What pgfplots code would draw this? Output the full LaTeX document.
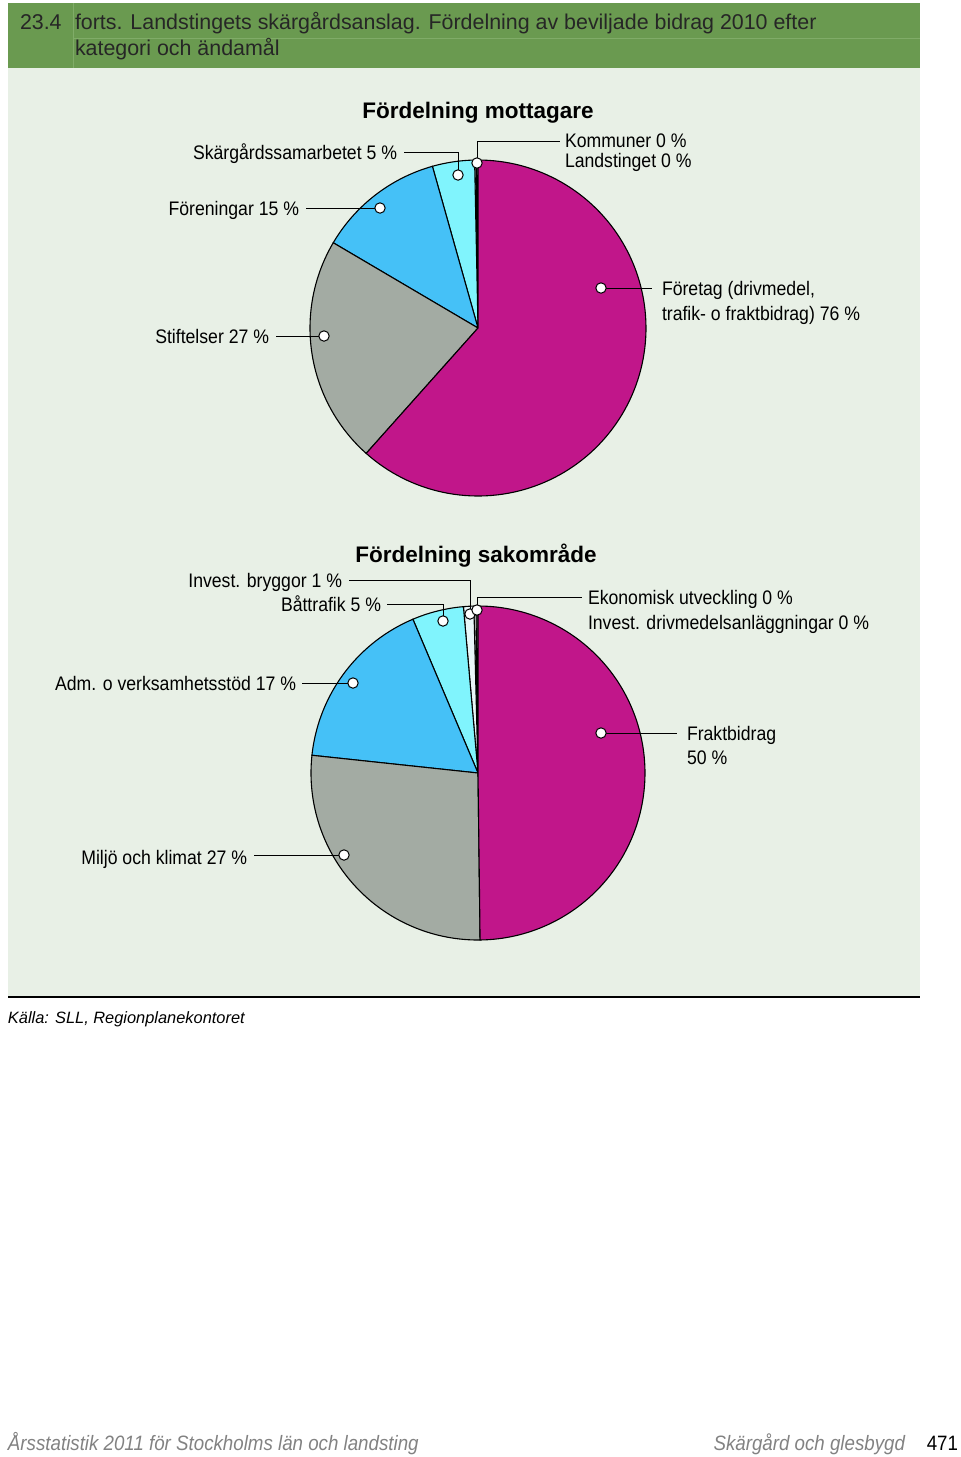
\documentclass[border=0pt]{standalone}
\usepackage{fontspec}
\setmainfont{Liberation Sans}
\newfontfamily\cond[FakeStretch=0.9]{Liberation Sans}
\usepackage{pgfplots}
\pgfplotsset{compat=1.18}

\definecolor{barG}{RGB}{106,154,80}
\definecolor{barL}{RGB}{128,172,104}
\definecolor{bgG}{RGB}{232,240,230}
\definecolor{pMag}{RGB}{193,22,138}
\definecolor{pGray}{RGB}{163,171,163}
\definecolor{pBlue}{RGB}{69,193,247}
\definecolor{pCyan}{RGB}{128,244,253}
\definecolor{pWhite}{RGB}{232,246,248}
\definecolor{footG}{RGB}{130,130,130}

% ---- data: Fördelning mottagare (share of total) ----
\def\mKom{0.2}   % Kommuner 0 %
\def\mLan{0.2}   % Landstinget 0 %
\def\mSka{5}     % Skärgårdssamarbetet
\def\mFor{15}    % Föreningar
\def\mSti{27}    % Stiftelser
\def\mFtg{76}    % Företag
% ---- data: Fördelning sakområde ----
\def\sEko{0.2}   % Ekonomisk utveckling 0 %
\def\sDri{0.2}   % Invest. drivmedelsanläggningar 0 %
\def\sBry{1}     % Invest. bryggor
\def\sBat{5}     % Båttrafik
\def\sAdm{17}    % Adm. o verksamhetsstöd
\def\sMil{27}    % Miljö och klimat
\def\sFra{50}    % Fraktbidrag

\pgfmathsetmacro\mT{\mKom+\mLan+\mSka+\mFor+\mSti+\mFtg}
\pgfmathsetmacro\ma{90}
\pgfmathsetmacro\mb{\ma+360*(\mKom/\mT)}
\pgfmathsetmacro\mc{\mb+360*(\mLan/\mT)}
\pgfmathsetmacro\md{\mc+360*(\mSka/\mT)}
\pgfmathsetmacro\me{\md+360*(\mFor/\mT)}
\pgfmathsetmacro\mf{\me+360*(\mSti/\mT)}
\pgfmathsetmacro\mg{\mf+360*(\mFtg/\mT)}

\pgfmathsetmacro\sT{\sEko+\sDri+\sBry+\sBat+\sAdm+\sMil+\sFra}
\pgfmathsetmacro\sa{90}
\pgfmathsetmacro\sb{\sa+360*(\sEko/\sT)}
\pgfmathsetmacro\sc{\sb+360*(\sDri/\sT)}
\pgfmathsetmacro\sd{\sc+360*(\sBry/\sT)}
\pgfmathsetmacro\se{\sd+360*(\sBat/\sT)}
\pgfmathsetmacro\sf{\se+360*(\sAdm/\sT)}
\pgfmathsetmacro\sg{\sf+360*(\sMil/\sT)}
\pgfmathsetmacro\sh{\sg+360*(\sFra/\sT)}

\newcommand{\slice}[6]{%
  \addplot[draw=black, line width=0.55pt, fill=#6, domain=#4:#5, samples=120, variable=\t]
    ({#1+#3*cos(\t)},{#2-#3*sin(\t)}) -- (axis cs:#1,#2) -- cycle;}

\newcommand{\lab}{\fontsize{9.8}{12}\selectfont\cond}
\newcommand{\ttl}{\fontsize{11.25}{13}\selectfont\bfseries}
\newcommand{\hdr}{\fontsize{10.7}{13}\selectfont}
\newcommand{\ftr}{\fontsize{10.4}{13}\selectfont\cond}

\begin{document}
\begin{tikzpicture}[every node/.style={inner sep=0pt, outer sep=0pt}]
\begin{axis}[
  scale only axis, width=480pt, height=728.5pt,
  xmin=0, xmax=960, ymin=0, ymax=1457, y dir=reverse,
  hide axis, clip=false,
]
% bounding frame
\path (axis cs:0,0) rectangle (axis cs:960,1457);
% title bar
\fill[barG] (axis cs:8,3) rectangle (axis cs:920,68);
\draw[barL, line width=0.5pt] (axis cs:73,3) -- (axis cs:73,68);
\draw[barL, line width=0.5pt] (axis cs:73,38) -- (axis cs:920,38);
\node[anchor=base west, font=\hdr, text=black!85] at (axis cs:20,29) {23.4};
\node[anchor=base west, font=\hdr, text=black!85] at (axis cs:75,29) {forts. Landstingets skärgårdsanslag. Fördelning av beviljade bidrag 2010 efter};
\node[anchor=base west, font=\hdr, text=black!85] at (axis cs:75,55) {kategori och ändamål};
% background
\fill[bgG] (axis cs:8,68) rectangle (axis cs:920,997);
\draw[black, line width=1pt] (axis cs:8,997) -- (axis cs:920,997);

% ---- top pie ----
\slice{478}{328}{168}{\ma}{\mb}{white}
\slice{478}{328}{168}{\mb}{\mc}{white}
\slice{478}{328}{168}{\mc}{\md}{pCyan}
\slice{478}{328}{168}{\md}{\me}{pBlue}
\slice{478}{328}{168}{\me}{\mf}{pGray}
\slice{478}{328}{168}{\mf}{\mg}{pMag}

% ---- bottom pie ----
\slice{478}{773}{167}{\sa}{\sb}{white}
\slice{478}{773}{167}{\sb}{\sc}{white}
\slice{478}{773}{167}{\sc}{\sd}{pWhite}
\slice{478}{773}{167}{\sd}{\se}{pCyan}
\slice{478}{773}{167}{\se}{\sf}{pBlue}
\slice{478}{773}{167}{\sf}{\sg}{pGray}
\slice{478}{773}{167}{\sg}{\sh}{pMag}

% titles
\node[anchor=base, font=\ttl] at (axis cs:478,118) {Fördelning mottagare};
\node[anchor=base, font=\ttl] at (axis cs:476,562) {Fördelning sakområde};

% leader lines top
\draw[line width=0.5pt] (axis cs:404,152) -- (axis cs:458,152) -- (axis cs:458,175);
\draw[line width=0.5pt] (axis cs:477,163) -- (axis cs:477,141) -- (axis cs:560,141);
\draw[line width=0.5pt] (axis cs:306,208) -- (axis cs:380,208);
\draw[line width=0.5pt] (axis cs:276,336) -- (axis cs:324,336);
\draw[line width=0.5pt] (axis cs:601,288) -- (axis cs:652,288);
% leader lines bottom
\draw[line width=0.5pt] (axis cs:349,580) -- (axis cs:470,580) -- (axis cs:470,614);
\draw[line width=0.5pt] (axis cs:387,604) -- (axis cs:443,604) -- (axis cs:443,621);
\draw[line width=0.5pt] (axis cs:477,610) -- (axis cs:477,597) -- (axis cs:582,597);
\draw[line width=0.5pt] (axis cs:302,683) -- (axis cs:353,683);
\draw[line width=0.5pt] (axis cs:601,733) -- (axis cs:677,733);
\draw[line width=0.5pt] (axis cs:254,855) -- (axis cs:344,855);

\addplot[only marks, mark=*, mark size=2.6pt, mark options={fill=white, draw=black, line width=0.5pt}]
 coordinates {(458,175) (477,163) (380,208) (324,336) (601,288)
              (470,614) (443,621) (477,610) (353,683) (601,733) (344,855)};

% labels top
\node[anchor=base east, font=\lab] at (axis cs:397,159) {Skärgårdssamarbetet 5 \%};
\node[anchor=base west, font=\lab] at (axis cs:565,147) {Kommuner 0 \%};
\node[anchor=base west, font=\lab] at (axis cs:565,167) {Landstinget 0 \%};
\node[anchor=base east, font=\lab] at (axis cs:299,215) {Föreningar 15 \%};
\node[anchor=base east, font=\lab] at (axis cs:269,343) {Stiftelser 27 \%};
\node[anchor=base west, font=\lab] at (axis cs:662,295) {Företag (drivmedel,};
\node[anchor=base west, font=\lab] at (axis cs:662,320) {trafik- o fraktbidrag) 76 \%};
% labels bottom
\node[anchor=base east, font=\lab] at (axis cs:342,587) {Invest. bryggor 1 \%};
\node[anchor=base east, font=\lab] at (axis cs:381,611) {Båttrafik 5 \%};
\node[anchor=base west, font=\lab] at (axis cs:588,604) {Ekonomisk utveckling 0 \%};
\node[anchor=base west, font=\lab] at (axis cs:588,629) {Invest. drivmedelsanläggningar 0 \%};
\node[anchor=base east, font=\lab] at (axis cs:296,690) {Adm. o verksamhetsstöd 17 \%};
\node[anchor=base west, font=\lab] at (axis cs:687,740) {Fraktbidrag};
\node[anchor=base west, font=\lab] at (axis cs:687,764) {50 \%};
\node[anchor=base east, font=\lab] at (axis cs:247,864) {Miljö och klimat 27 \%};

% source
\node[anchor=base west, font=\fontsize{8.2}{10}\selectfont\itshape] at (axis cs:8,1023) {Källa: SLL, Regionplanekontoret};
% footer
\node[anchor=base west, font=\ftr\itshape, text=footG] at (axis cs:8,1450) {Årsstatistik 2011 för Stockholms län och landsting};
\node[anchor=base east, font=\ftr\itshape, text=footG] at (axis cs:905,1450) {Skärgård och glesbygd};
\node[anchor=base east, font=\ftr] at (axis cs:958,1450) {471};
\end{axis}
\end{tikzpicture}
\end{document}
